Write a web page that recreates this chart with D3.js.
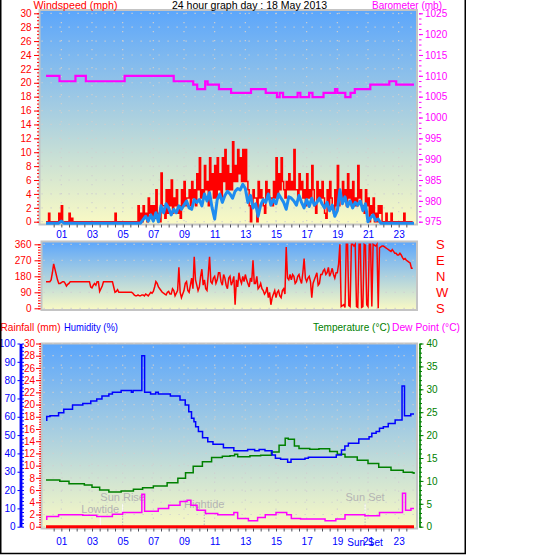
<!DOCTYPE html>
<html>
<head>
<meta charset="utf-8">
<script src="https://cdnjs.cloudflare.com/ajax/libs/d3/7.8.5/d3.min.js"></script>
<style>
    body { margin: 0; background: #fff; }
    text { font-family: "Liberation Sans", Arial, sans-serif; }
</style>
</head>
<body>
<script>
// Timetiketter på x-axeln
const labelHours = [1, 3, 5, 7, 9, 11, 13, 15, 17, 19, 21, 23];
const stepHours = 1 / 6; // 10 minuter mellan värdena

// Vindby (mph), toppvärde och lugnare värde i varje 10-minutersperiod
const gustSpeed = [
    0, 1.2, 0, 0, 0, 1.2,   2.3, 0, 0, 1.2, 0.5, 0,   0, 0, 0, 0, 0, 0,   0, 0, 0, 0, 0, 0,
    0, 0, 0, 1.2, 0, 0,   0, 0, 0, 0, 0, 0,   2.3, 1.2, 2.3, 1.2, 3.4, 2.3,   2.3, 4.6, 0.5, 7.0, 2.3, 4.6,
    4.6, 6.0, 3.4, 4.6, 2.3, 4.6,   5.8, 3.4, 4.6, 5.8, 4.6, 6.9,   9.2, 4.6, 8.1, 5.8, 9.2, 6.9,   8.1, 9.2, 6.9, 9.2, 10.4, 8.1,
    6.9, 11.5, 8.1, 10.4, 9.2, 10.4,   10.4, 4.6, 0, 4.6, 3.4, 5.8,   4.6, 2.3, 5.8, 4.6, 3.4, 5.8,   9.2, 6.9, 9.2, 4.6, 5.8, 6.9,
    5.8, 10.4, 4.6, 6.9, 5.8, 4.6,   6.9, 4.6, 8.1, 2.3, 5.8, 4.6,   5.8, 1.2, 4.6, 5.8, 2.3, 4.6,   8.1, 3.4, 5.8, 4.6, 6.9, 4.6,
    5.8, 3.4, 8.1, 4.6, 2.3, 4.6,   3.4, 2.3, 3.4, 1.2, 2.3, 2.3,   0, 1.2, 0, 1.2, 0, 0,   0, 0, 1.2, 0, 0, 0
];
const gustLow = [
    0, 0, 0, 0, 0, 0,   0, 0, 0, 0, 0, 0,   0, 0, 0, 0, 0, 0,   0, 0, 0, 0, 0, 0,
    0, 0, 0, 0, 0, 0,   0, 0, 0, 0, 0, 0,   0, 0, 0.5, 0, 1.2, 0.5,   0.5, 1.2, 0, 2.3, 0.5, 1.2,
    2.3, 1.2, 2.3, 1.2, 0.5, 2.3,   2.3, 3.4, 2.3, 3.4, 2.3, 4.6,   3.4, 3.4, 4.6, 2.3, 4.6, 3.4,   3.4, 4.6, 3.4, 5.8, 4.6, 4.6,
    4.6, 5.8, 5.8, 6.9, 5.8, 5.8,   5.8, 2.3, 2.3, 3.4, 0, 3.4,   3.4, 1.2, 3.4, 3.4, 2.3, 3.4,   3.4, 4.6, 5.8, 3.4, 4.6, 4.6,
    4.6, 4.6, 3.4, 4.6, 3.4, 2.3,   3.4, 3.4, 4.6, 1.2, 3.4, 3.4,   3.4, 0.5, 2.3, 3.4, 1.2, 2.3,   2.3, 3.4, 3.4, 2.3, 3.4, 2.3,
    2.3, 2.3, 3.4, 2.3, 1.2, 2.3,   0, 1.2, 0, 0, 1.2, 0,   0, 0, 0, 0, 0, 0,   0, 0, 0, 0, 0, 0
];
// Medelvind (mph)
const avgSpeed = [
    0, 0, 0, 0, 0, 0,   0.3, 0, 0, 0, 0, 0,   0, 0, 0, 0, 0, 0,   0, 0, 0, 0, 0, 0,
    0, 0, 0, 0, 0, 0,   0, 0, 0, 0, 0, 0,   0, 0, 0.5, 1.0, 0.3, 1.2,   0.3, 1.5, 0.2, 2.5, 1.5, 2.8,
    2.2, 1.2, 2.0, 1.5, 2.5, 2.0,   2.6, 3.2, 2.2, 2.0, 3.4, 3.0,   3.4, 2.5, 4.2, 3.2, 4.4, 2.2,   0.6, 3.4, 4.2, 3.0, 4.0, 4.6,
    4.2, 3.6, 4.6, 5.0, 4.8, 5.6,   5.0, 3.0, 4.0, 2.2, 2.8, 1.0,   2.6, 3.4, 3.0, 4.2, 2.6, 3.4,   2.8, 4.2, 3.6, 3.0, 2.0, 3.8,
    3.6, 3.2, 2.6, 4.0, 3.0, 2.2,   3.4, 2.4, 3.6, 2.6, 3.0, 3.6,   2.8, 2.2, 3.0, 1.8, 2.6, 1.0,   1.8, 4.8, 2.8, 3.8, 2.4, 3.2,
    2.2, 3.0, 2.6, 3.2, 1.8, 2.8,   0.2, 0.8, 1.2, 0.4, 0.6, 0,   0, 0, 0, 0, 0, 0,   0, 0, 0, 0, 0, 0
];

// Vindriktning (grader), vid hel och halv 10-minutersperiod
const windDir = [
    150, 150, 160, 250, 190, 140,   145, 150, 125, 140, 150, 150,   150, 150, 150, 150, 150, 150,   115, 140, 150, 95, 125, 150,
    150, 150, 150, 90, 105, 90,   90, 90, 90, 90, 85, 70,   75, 70, 75, 80, 70, 90,   95, 150, 120, 100, 85, 75,
    95, 80, 100, 85, 230, 60,   100, 150, 90, 170, 290, 130,   120, 220, 160, 100, 290, 140,   180, 160, 200, 130, 170, 110,
    180, 150, 20, 120, 160, 180,   190, 140, 170, 270, 140, 110,   140, 100, 90, 60, 20, 80,   60, 100, 60, 110, 345, 160,
    160, 180, 150, 190, 140, 280,   150, 180, 60, 160, 200, 140,   190, 220, 200, 180, 225, 170,   200, 360, 15, 5, 360, 10,
    360, 360, 5, 360, 10, 355,   10, 360, 360, 350, 0, 345,   350, 340, 330, 320, 320, 310,   300, 300, 275, 270, 260, 225
];
const windDirMid = [
    150, 150, 200, 220, 160, 140,   150, 140, 135, 150, 150, 150,   150, 150, 150, 150, 150, 120,   130, 130, 150, 110, 150, 150,
    150, 150, 120, 95, 90, 90,   90, 90, 90, 90, 75, 70,   70, 75, 70, 75, 80, 85,   120, 140, 110, 90, 80, 90,
    80, 110, 70, 100, 90, 80,   140, 100, 130, 110, 160, 100,   180, 130, 110, 190, 150, 170,   140, 200, 150, 190, 130, 170,
    130, 180, 160, 200, 140, 150,   160, 120, 150, 140, 180, 120,   110, 80, 120, 90, 60, 100,   90, 70, 100, 80, 170, 190,
    190, 140, 180, 160, 200, 170,   170, 150, 140, 180, 130, 190,   210, 190, 230, 200, 190, 200,   250, 10, 20, 360, 15, 360,
    350, 10, 360, 5, 360, 20,   360, 10, 355, 360, 340, 350,   345, 335, 325, 330, 310, 300,   310, 285, 280, 265, 255, 225
];
const compassLabels = ["S", "W", "N", "E", "S"];

// Lufttryck (mb), [timme, värde] där värdet ändras
const baroSteps = [
    [0, 1010.0], [0.88, 1008.7], [1.92, 1010.0], [2.6, 1008.7], [5.13, 1010.0], [8.33, 1008.7],
    [9.6, 1007.9], [9.86, 1006.8], [10.38, 1008.7], [10.54, 1007.9], [11.28, 1006.8], [12.07, 1005.9],
    [13.37, 1006.8], [14.33, 1005.9], [15.06, 1004.9], [15.24, 1005.9], [15.46, 1004.9], [16.41, 1005.9],
    [16.59, 1004.9], [17.16, 1005.9], [17.38, 1004.9], [18.1, 1005.9], [18.85, 1006.8], [19.0, 1005.9],
    [19.52, 1004.9], [19.86, 1005.9], [20.14, 1006.8], [21.15, 1007.9], [22.39, 1008.7], [22.84, 1007.9],
    [24, 1007.9]
];

// Luftfuktighet (%)
const humidity = [
    [0, 58.1], [0.05, 60.1], [0.26, 60.6], [0.82, 62.2], [1.16, 64.1], [1.73, 66.4], [2.4, 67.3],
    [2.92, 68.6], [3.31, 69.7], [3.65, 71.3], [4.1, 72.4], [4.33, 73.4], [4.9, 74.3], [5.57, 73.4],
    [5.68, 74.3], [6.25, 93.3], [6.43, 73.4], [6.82, 72.4], [7.16, 73.4], [7.32, 72.4], [8.11, 71.3],
    [8.74, 69.2], [9.08, 66.4], [9.31, 62.8], [9.49, 59.2], [9.65, 57.3], [9.76, 54.6], [9.94, 51.9],
    [10.21, 48.6], [10.55, 46.4], [10.89, 45.0], [11.57, 43.1], [12.25, 41.5], [13.15, 42.2],
    [13.61, 41.5], [13.9, 42.2], [14.28, 41.5], [14.74, 39.1], [14.96, 37.3], [15.3, 36.8],
    [15.76, 35.2], [15.98, 36.8], [16.89, 37.3], [17.11, 37.9], [18.93, 39.1], [19.27, 41.9],
    [19.49, 44.0], [19.72, 45.5], [20.4, 47.9], [21.07, 49.1], [21.25, 51.0], [21.53, 51.9],
    [21.75, 53.7], [22.0, 54.6], [22.32, 56.4], [22.77, 58.2], [23.22, 76.8], [23.38, 60.6],
    [23.79, 61.5], [24, 61.5]
];

// Temperatur och daggpunkt (°C)
const temperature = [
    [0, 10.2], [0.9, 9.9], [1.5, 9.4], [2.5, 9.1], [3.0, 8.6], [3.5, 8.0], [4.1, 7.6], [4.9, 7.8],
    [5.7, 8.2], [6.3, 8.5], [7.0, 8.9], [7.9, 9.6], [8.6, 10.6], [9.1, 11.8], [9.6, 13.2], [10.2, 14.2],
    [10.8, 15.1], [11.5, 15.4], [12.0, 15.5], [12.3, 15.8], [12.5, 15.3], [13.3, 15.5], [14.0, 15.6],
    [14.7, 16.3], [15.2, 17.8], [15.6, 19.3], [15.8, 19.1], [16.2, 17.6], [16.5, 17.1], [17.2, 16.9],
    [17.8, 17.0], [18.5, 16.4], [19.0, 15.8], [19.5, 15.2], [20.3, 14.5], [21.0, 13.8], [21.7, 13.0],
    [22.5, 12.3], [23.3, 11.9], [23.9, 11.8], [24, 11.5]
];
const dewPoint = [
    [0, 1.6], [0.05, 2.2], [0.82, 2.6], [2.4, 2.5], [3.31, 2.2], [4.33, 2.7], [5.0, 3.1], [6.25, 7.1],
    [6.43, 3.4], [7.32, 4.0], [8.0, 4.7], [8.74, 5.5], [9.2, 5.8], [9.45, 4.7], [9.85, 3.6], [10.4, 2.9],
    [11.2, 2.6], [12.25, 3.1], [12.5, 1.8], [13.2, 1.3], [13.8, 2.0], [14.3, 2.6], [15.0, 3.1],
    [15.7, 2.6], [16.0, 1.8], [16.6, 1.7], [18.2, 1.3], [18.9, 1.7], [19.5, 2.6], [20.8, 2.4],
    [21.75, 3.1], [23.25, 7.3], [23.45, 3.6], [23.8, 4.0], [24, 4.0]
];

// Nederbörd (mm)
const rainfall = [[0, 0], [24, 0]];

// Tidvatten och sol
const markerLabels = ["Lowtide", "Sun Rise", "Hightide", "Sun Set"];
const markerHours = [3.54, 5.0, 10.32, 20.81];

// Storlek
const wSvg = 543, hSvg = 555;
const topBox = { x0: 39.5, x1: 417, y0: 10, y1: 224.5 };
const dirBox = { x0: 41.5, x1: 417, y0: 241.5, y1: 310 };
const lowBox = { x0: 41.5, x1: 417, y0: 343.5, y1: 528.5 };

const svg = d3.select("body").append("svg")
    .attr("width", wSvg)
    .attr("height", hSvg);

// Gradient bakgrund
const grad = svg.append("defs").append("linearGradient")
    .attr("id", "sky")
    .attr("x1", 0).attr("y1", 0).attr("x2", 0).attr("y2", 1);
grad.append("stop").attr("offset", "0%").attr("stop-color", "#5ca6fb");
grad.append("stop").attr("offset", "100%").attr("stop-color", "#fafac4");

// Skalor
const xScale = d3.scaleLinear().domain([0, 24]).range([46, 414]);
const windScale = d3.scaleLinear().domain([0, 30]).range([221.7, 13.3]);
const baroScale = d3.scaleLinear().domain([975, 1025]).range([221.7, 13.3]);
const dirScale = d3.scaleLinear().domain([0, 360]).range([308.3, 244.3]);
const rainScale = d3.scaleLinear().domain([0, 30]).range([526.7, 343.5]);
const humScale = d3.scaleLinear().domain([0, 100]).range([526.7, 343.5]);
const tempScale = d3.scaleLinear().domain([0, 40]).range([526.7, 343.5]);

function plotFrame(b) {
    svg.append("rect")
        .attr("x", b.x0).attr("y", b.y0)
        .attr("width", b.x1 - b.x0).attr("height", b.y1 - b.y0)
        .attr("fill", "url(#sky)")
        .attr("stroke", "#c4c4c4")
        .attr("stroke-width", 2);
}

function grid(b, yScale, yValues, vertical) {
    const g = svg.append("g")
        .attr("stroke", "#cfcfcf")
        .attr("stroke-width", 1.2)
        .attr("stroke-dasharray", "1.2,7.8");
    g.selectAll(".h").data(yValues).join("line")
        .attr("x1", b.x0 + 2).attr("x2", b.x1 - 1)
        .attr("y1", d => yScale(d)).attr("y2", d => yScale(d));
    if (vertical) {
        g.selectAll(".v").data(labelHours).join("line")
            .attr("x1", d => xScale(d)).attr("x2", d => xScale(d))
            .attr("y1", b.y0 + 3).attr("y2", b.y1 - 1);
    }
}

function yAxis(orient, scale, xPos, major, minor, opts) {
    const make = orient === "left" ? d3.axisLeft : d3.axisRight;
    const g = svg.append("g")
        .attr("transform", `translate(${xPos},0)`)
        .style("color", opts.color);
    g.append("g").call(make(scale).tickValues(minor).tickSize(opts.minorSize).tickFormat("").tickSizeOuter(0));
    g.append("g").call(make(scale).tickValues(major).tickSize(opts.majorSize).tickPadding(opts.pad)
        .tickFormat(opts.format || d3.format("d")).tickSizeOuter(0));
    if (!opts.domain) g.selectAll(".domain").remove();
    else g.selectAll(".domain").attr("stroke-width", opts.domain);
    g.selectAll("text")
        .attr("font-family", "Liberation Sans, Arial, sans-serif")
        .attr("font-size", opts.fontSize || 10);
    return g;
}

function timeAxis(b, labelY) {
    svg.append("g")
        .attr("transform", `translate(0,${b.y1})`)
        .style("color", "#50505a")
        .call(d3.axisBottom(xScale).tickValues(d3.range(0.5, 24, 0.5)).tickSize(3).tickFormat(""))
        .select(".domain").remove();
    const g = svg.append("g")
        .attr("transform", `translate(0,${labelY})`)
        .style("color", "#0000ff")
        .call(d3.axisBottom(xScale).tickValues(labelHours).tickSize(0).tickPadding(0).tickFormat(d3.format("02d")));
    g.select(".domain").remove();
    g.selectAll("text").attr("font-family", "Liberation Sans, Arial, sans-serif").attr("font-size", 10);
    return g;
}

function title(txt, x, y, color, width, anchor) {
    svg.append("text")
        .attr("x", x).attr("y", y)
        .attr("fill", color)
        .attr("font-size", 11.5)
        .attr("text-anchor", anchor || "start")
        .attr("textLength", width)
        .attr("lengthAdjust", "spacingAndGlyphs")
        .text(txt);
}

// ---- Graf 1: vind och tryck ----
plotFrame(topBox);
grid(topBox, windScale, d3.range(0, 31, 2), true);

const gustData = gustSpeed.flatMap((v, i) => [
    { h: i * stepHours, v: v },
    { h: (i + 0.5) * stepHours, v: gustLow[i] }
]);
const avgData = avgSpeed.map((v, i) => ({ h: i * stepHours, v: v }));
avgData.push({ h: 24, v: avgSpeed[avgSpeed.length - 1] });

svg.append("path")
    .datum(gustData)
    .attr("fill", "none")
    .attr("stroke", "#ff0000")
    .attr("stroke-width", 1.5)
    .attr("d", d3.line().x(d => xScale(d.h)).y(d => windScale(d.v)).curve(d3.curveStepAfter));

svg.append("path")
    .datum(avgData)
    .attr("transform", "translate(0,1.5)")
    .attr("fill", "none")
    .attr("stroke", "#1e8cf0")
    .attr("stroke-width", 3)
    .attr("stroke-linejoin", "round")
    .attr("d", d3.line().x(d => xScale(d.h)).y(d => windScale(d.v)));

svg.append("path")
    .datum(baroSteps)
    .attr("fill", "none")
    .attr("stroke", "#ff00ff")
    .attr("stroke-width", 2.2)
    .attr("d", d3.line().x(d => xScale(d[0])).y(d => baroScale(d[1])).curve(d3.curveStepAfter));

yAxis("left", windScale, 39, d3.range(0, 31, 2), d3.range(0, 30.01, 0.5),
    { color: "#ff0000", majorSize: 5, minorSize: 2, pad: 2.5 });
yAxis("right", baroScale, 419, d3.range(975, 1026, 5), d3.range(975, 1025.01, 1.25),
    { color: "#ff00ff", majorSize: 4, minorSize: 2.5, pad: 2 });
timeAxis(topBox, 230.5);

title("Windspeed (mph)", 33.5, 8.6, "#ff0000", 84);
title("24 hour graph day : 18 May 2013", 172, 8.6, "#000000", 155);
title("Barometer (mb)", 372, 8.6, "#ff00ff", 70);

// ---- Graf 2: vindriktning ----
plotFrame(dirBox);
grid(dirBox, dirScale, [0, 90, 180, 270, 360], false);

const dirData = windDir.flatMap((v, i) => [
    { h: i * stepHours, v: v },
    { h: (i + 0.5) * stepHours, v: windDirMid[i] }
]);
svg.append("path")
    .datum(dirData)
    .attr("fill", "none")
    .attr("stroke", "#ff0000")
    .attr("stroke-width", 1.5)
    .attr("d", d3.line().x(d => xScale(d.h)).y(d => dirScale(d.v)));

yAxis("left", dirScale, 40.5, [0, 90, 180, 270, 360], d3.range(0, 360.1, 15),
    { color: "#ff0000", majorSize: 6, minorSize: 2.5, pad: 3 });

const compass = svg.append("g")
    .attr("transform", "translate(419,0)")
    .style("color", "#ff0000")
    .call(d3.axisRight(dirScale).tickValues([0, 90, 180, 270, 360]).tickSize(0).tickPadding(17)
        .tickFormat((d, i) => compassLabels[i]));
compass.select(".domain").remove();
compass.selectAll("text").attr("font-family", "Liberation Sans, Arial, sans-serif").attr("font-size", 13);

// ---- Graf 3: regn, fukt, temperatur ----
plotFrame(lowBox);
grid(lowBox, rainScale, d3.range(0, 31, 2), true);

// Tidvatten- och solmarkeringar
markerHours.forEach((h, i) => {
    const isSun = markerLabels[i].startsWith("Sun");
    const top = lowBox.y1 - (isSun ? 25 : (i === 0 ? 12 : 17));
    svg.append("line")
        .attr("x1", xScale(h)).attr("x2", xScale(h))
        .attr("y1", top).attr("y2", lowBox.y1 - 1.5)
        .attr("stroke", i === 0 ? "#ffffff" : "#b8b8b8")
        .attr("stroke-dasharray", i === 0 ? null : "1.5,1.5");
    if (isSun) {
        svg.append("line")
            .attr("x1", xScale(h)).attr("x2", xScale(h))
            .attr("y1", top).attr("y2", top + 10)
            .attr("stroke", "#ffffff");
    }
    svg.append("text")
        .attr("x", xScale(h)).attr("y", top - (isSun ? 3 : 4))
        .attr("text-anchor", "middle")
        .attr("fill", "#b4b4b4")
        .attr("font-size", 11)
        .text(markerLabels[i]);
});

svg.append("path")
    .datum(rainfall)
    .attr("fill", "none")
    .attr("stroke", "#ff0000")
    .attr("stroke-width", 3)
    .attr("d", d3.line().x(d => xScale(d[0])).y(d => rainScale(d[1])));

svg.append("path")
    .datum(temperature)
    .attr("fill", "none")
    .attr("stroke", "#008000")
    .attr("stroke-width", 1.5)
    .attr("d", d3.line().x(d => xScale(d[0])).y(d => tempScale(d[1])).curve(d3.curveStepAfter));

svg.append("path")
    .datum(humidity)
    .attr("fill", "none")
    .attr("stroke", "#0000ff")
    .attr("stroke-width", 1.5)
    .attr("d", d3.line().x(d => xScale(d[0])).y(d => humScale(d[1])).curve(d3.curveStepAfter));

svg.append("path")
    .datum(dewPoint)
    .attr("fill", "none")
    .attr("stroke", "#ff00ff")
    .attr("stroke-width", 1.5)
    .attr("d", d3.line().x(d => xScale(d[0])).y(d => tempScale(d[1])).curve(d3.curveStepAfter));

yAxis("left", rainScale, 41, d3.range(0, 31, 2), d3.range(0, 30.01, 0.4),
    { color: "#ff0000", majorSize: 5, minorSize: 2, pad: 1 });
yAxis("left", humScale, 20.5, d3.range(0, 101, 10), [],
    { color: "#0000ff", majorSize: 3, minorSize: 0, pad: 2, domain: 2.5 });
yAxis("right", humScale, 21.5, [], d3.range(0, 100.1, 2),
    { color: "#0000ff", majorSize: 0, minorSize: 2.5, pad: 0 });
yAxis("right", tempScale, 419.5, d3.range(0, 41, 5), d3.range(0, 40.1, 1),
    { color: "#008000", majorSize: 4, minorSize: 2.5, pad: 3, domain: 1.2 });
timeAxis(lowBox, 538);

svg.append("text")
    .attr("x", xScale(markerHours[3])).attr("y", 545.5)
    .attr("text-anchor", "middle")
    .attr("fill", "#0000ff")
    .attr("font-size", 10)
    .text("Sun Set");

title("Rainfall (mm)", 0.5, 331, "#ff0000", 60);
title("Humidity (%)", 64, 331, "#0000ff", 54);
title("Temperature (°C)", 313, 331, "#008000", 77);
title("Dew Point (°C)", 392, 331, "#ff00ff", 68);

// Ram runt hela bilden
svg.append("rect")
    .attr("x", 0.75).attr("y", -5)
    .attr("width", 464.5).attr("height", 558.5)
    .attr("fill", "none")
    .attr("stroke", "#000000")
    .attr("stroke-width", 1.5);
</script>
</body>
</html>
